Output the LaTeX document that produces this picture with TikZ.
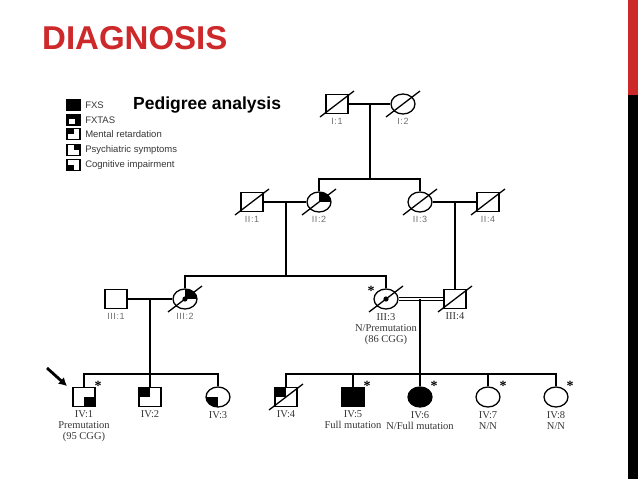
\documentclass[tikz,border=0pt]{standalone}
\usepackage{fontspec}
\setmainfont{Liberation Serif}
\setsansfont{Liberation Sans}
\newfontfamily\idfont[LetterSpace=6]{Liberation Sans}
\usetikzlibrary{positioning,shapes.geometric,arrows.meta}
\definecolor{rojo}{RGB}{205,40,42}
\definecolor{gris}{RGB}{110,110,110}
\definecolor{grisosc}{RGB}{55,55,55}
\newcommand{\fallecido}[1]{\draw[raya] ([shift={(-17pt,-13pt)}]#1.center) -- ([shift={(17pt,13pt)}]#1.center);}
\tikzset{
  varon/.style={draw, rectangle, line width=1.3pt, minimum width=22pt, minimum height=19pt, inner sep=0pt},
  mujer/.style={draw, ellipse, line width=1.3pt, minimum width=24pt, minimum height=20pt, inner sep=0pt},
  cajaleyenda/.style={draw, rectangle, line width=1.1pt, minimum width=13pt, minimum height=11pt, inner sep=0pt},
  lleno/.style={fill=black},
  cuadsi/.style={path picture={\fill (path picture bounding box.center) rectangle (path picture bounding box.north west);}},
  cuadsd/.style={path picture={\fill (path picture bounding box.center) rectangle (path picture bounding box.north east);}},
  cuadii/.style={path picture={\fill (path picture bounding box.center) rectangle (path picture bounding box.south west);}},
  cuadid/.style={path picture={\fill (path picture bounding box.center) rectangle (path picture bounding box.south east);}},
  punto/.style={path picture={\fill (path picture bounding box.center) circle[radius=2.6pt];}},
  cuadsdpunto/.style={path picture={\fill (path picture bounding box.center) rectangle (path picture bounding box.north east);
      \fill (path picture bounding box.center) circle[radius=2.6pt];}},
  fxtas/.style={path picture={\fill (path picture bounding box.south west) rectangle (path picture bounding box.north east);
      \fill[white] ([shift={(1.6pt,1.6pt)}]path picture bounding box.south west) rectangle ([shift={(1.2pt,1.2pt)}]path picture bounding box.center);}},
  raya/.style={line width=1.3pt},
  linea/.style={line width=1.4pt},
  ids/.style={font=\idfont\fontsize{9}{10}\selectfont, text=gris, inner sep=0pt},
  txt/.style={font=\fontsize{10.5}{11}\selectfont, text=grisosc, align=center, inner sep=0pt},
  leyenda/.style={font=\sffamily\fontsize{9.5}{10}\selectfont, text=grisosc, inner sep=0pt},
  asterisco/.style={font=\bfseries\fontsize{14}{14}\selectfont, inner sep=0pt, anchor=base}
}

\begin{document}
\begin{tikzpicture}[x=1pt, y=-1pt, label distance=3.5pt]
        \useasboundingbox (0,0) rectangle (638,479);
        \fill[white] (0,0) rectangle (638,479);

        % Barra lateral
        \fill[rojo] (628,0) rectangle (638,95);
        \fill[black] (628,95) rectangle (638,479);

        % Titulos
        \node[anchor=base west, inner sep=0pt, text=rojo, font=\sffamily\bfseries\fontsize{33}{33}\selectfont] (titulo) at (42,49) {DIAGNOSIS};
        \node[anchor=base west, inner sep=0pt, font=\sffamily\bfseries\fontsize{17.5}{18}\selectfont] (subtitulo) at (133,109) {Pedigree analysis};

        % Leyenda
        \foreach \y/\t/\k in {105/FXS/lleno, 120/FXTAS/fxtas, 134/Mental retardation/cuadsi,
                              150/Psychiatric symptoms/cuadsd, 165/Cognitive impairment/cuadii} {
            \node[cajaleyenda, \k] (ley\y) at (73.5,\y) {};
            \node[leyenda, right=4.5pt of ley\y] (leytxt\y) {\t};
        }

        % Generacion I
        \node[varon, label={[ids]below:{I:1}}] (i1) at (337,104) {};
        \node[mujer, label={[ids]below:{I:2}}] (i2) at (403,104) {};

        % Generacion II
        \node[varon, label={[ids]below:{II:1}}] (ii1) at (252,202) {};
        \node[mujer, cuadsd, label={[ids]below:{II:2}}] (ii2) at (319,202) {};
        \node[mujer, label={[ids]below:{II:3}}] (ii3) at (420,202) {};
        \node[varon, label={[ids]below:{II:4}}] (ii4) at (488,202) {};

        % Generacion III
        \node[varon, label={[ids]below:{III:1}}] (iii1) at (116,299) {};
        \node[mujer, cuadsdpunto, label={[ids]below:{III:2}}] (iii2) at (185,299) {};
        \node[mujer, punto, label={[txt]below:{III:3\\N/Premutation\\(86 CGG)}}] (iii3) at (386,299) {};
        \node[varon, label={[txt]below:{III:4}}] (iii4) at (455,299) {};

        % Generacion IV
        \node[varon, cuadid, label={[txt]below:{IV:1\\Premutation\\(95 CGG)}}] (iv1) at (84,397) {};
        \node[varon, cuadsi, label={[txt]below:{IV:2}}] (iv2) at (150,397) {};
        \node[mujer, cuadii, label={[txt]below:{IV:3}}] (iv3) at (218,397) {};
        \node[varon, cuadsi, label={[txt]below:{IV:4}}] (iv4) at (286,397) {};
        \node[varon, lleno, label={[txt]below:{IV:5\\Full mutation}}] (iv5) at (353,397) {};
        \node[mujer, lleno, label={[txt]below:{IV:6\\N/Full mutation}}] (iv6) at (420,397) {};
        \node[mujer, label={[txt]below:{IV:7\\N/N}}] (iv7) at (488,397) {};
        \node[mujer, label={[txt]below:{IV:8\\N/N}}] (iv8) at (556,397) {};

        % Fallecidos
        \fallecido{i1} \fallecido{i2}
        \fallecido{ii1} \fallecido{ii2} \fallecido{ii3} \fallecido{ii4}
        \fallecido{iii2} \fallecido{iii3} \fallecido{iii4}
        \fallecido{iv4}

        % Uniones y descendencia
        \coordinate (m1) at (370,104);
        \coordinate (s1) at (370,179);
        \draw[linea] (i1) -- (i2);
        \draw[linea] (m1) -- (s1);
        \draw[linea] (ii2.north) |- (s1) -| (ii3.north);

        \coordinate (m2) at (286,202);
        \coordinate (s2) at (286,276);
        \coordinate (m2b) at (455,202);
        \draw[linea] (ii1) -- (ii2);
        \draw[linea] (ii3) -- (ii4);
        \draw[linea] (m2) -- (s2);
        \draw[linea] (iii2.north) |- (s2) -| (iii3.north);
        \draw[linea] (m2b) -- (iii4.north);

        \coordinate (m3) at (150,299);
        \coordinate (s3) at (150,374);
        \draw[linea] (iii1) -- (iii2);
        \draw[linea] (m3) -- (iv2.north);
        \draw[linea] (iv1.north) |- (s3) -| (iv3.north);

        \coordinate (m4) at (420,299);
        \coordinate (s4) at (420,374);
        \draw[line width=1.1pt, double, double distance=2.4pt] (iii3) -- (iii4);
        \draw[linea] (m4) -- (iv6.north);
        \draw[linea] (iv4.north) |- (s4) -| (iv8.north);
        \draw[linea] (iv5.north) -- (iv5.north |- s4);
        \draw[linea] (iv7.north) -- (iv7.north |- s4);

        % Probando y asteriscos
        \coordinate (pa) at (47,368);
        \coordinate (pb) at (67,386);
        \draw[line width=2.8pt, -{Latex[length=8pt,width=9pt]}] (pa) -- (pb);
        \node[asterisco] (a1) at (98,390) {*};
        \node[asterisco] (a2) at (371,295) {*};
        \node[asterisco] (a3) at (367,390) {*};
        \node[asterisco] (a4) at (434,390) {*};
        \node[asterisco] (a5) at (503,390) {*};
        \node[asterisco] (a6) at (570,390) {*};
    \end{tikzpicture}
\end{document}
